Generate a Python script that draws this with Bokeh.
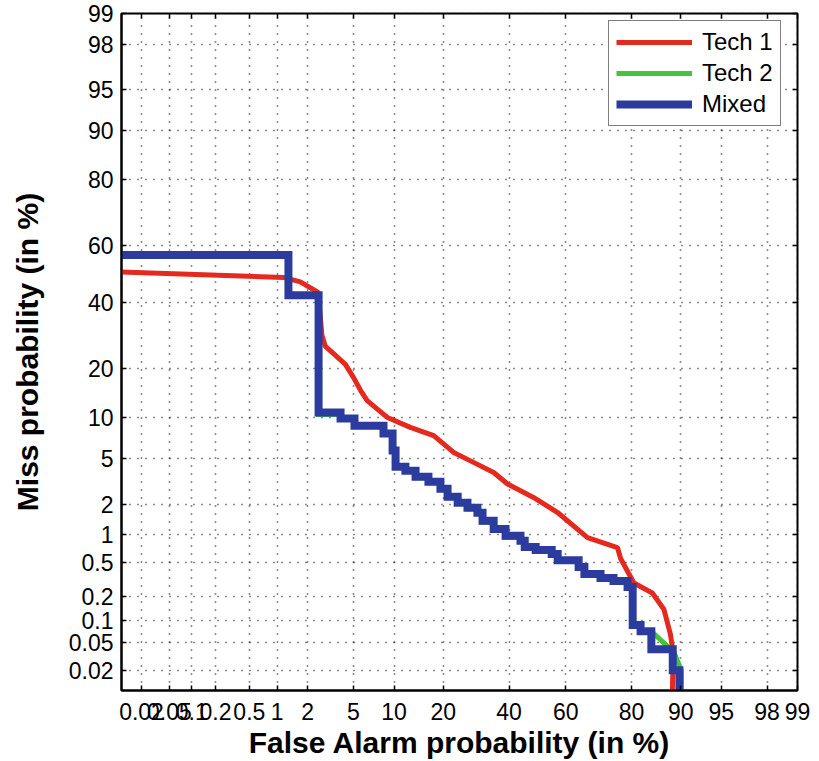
from statistics import NormalDist
from bokeh.plotting import figure
from bokeh.models import Range1d, FixedTicker, CustomJSTickFormatter, LinearAxis, Legend, LegendItem
from bokeh.embed import file_html
from bokeh.resources import INLINE

# ---- data (percent) ----
tick_pct = [0.02, 0.05, 0.1, 0.2, 0.5, 1, 2, 5, 10, 20, 40, 60, 80, 90, 95, 98, 99]
tick_labels = ["0.02", "0.05", "0.1", "0.2", "0.5", "1", "2", "5", "10", "20",
               "40", "60", "80", "90", "95", "98", "99"]
axis_min_pct = 0.01
axis_max_pct = 99

tech1_fa = [0.008, 1.16, 1.7, 2.5, 2.7, 2.9, 3.4, 4.3, 5.0, 5.7, 6.4, 7.7, 9.0, 12.8,
            17.7, 22.7, 28.4, 34.8, 39.5, 48.6, 57.2, 67.3, 76.3, 77.2, 80.6, 84.8,
            87.1, 88.3, 88.8, 88.6]
tech1_miss = [50.8, 48.8, 47.2, 43.5, 29.2, 25.9, 23.9, 21.0, 17.8, 14.9, 12.9, 11.3,
              10.0, 8.55, 7.45, 5.56, 4.63, 3.82, 3.04, 2.30, 1.66, 0.93, 0.73, 0.55,
              0.29, 0.22, 0.138, 0.0645, 0.0343, 0.008]

mixed_fa = [0.008, 1.30, 1.30, 2.52, 2.52, 3.92, 3.92, 5.10, 5.10, 8.44, 8.44, 9.77,
            9.77, 10.24, 10.24, 11.9, 11.9, 13.8, 13.8, 16.5, 16.5, 19.3, 19.3, 21.1,
            21.1, 23.8, 23.8, 26.6, 26.6, 29.6, 29.6, 31.2, 31.2, 34.8, 34.8, 38.8,
            38.8, 44.0, 44.0, 45.5, 45.5, 49.4, 49.4, 55.1, 55.1, 57.2, 57.2, 64.4,
            64.4, 66.3, 66.3, 71.4, 71.4, 75.2, 75.2, 79.0, 79.0, 80.3, 80.3, 82.2,
            82.2, 84.6, 84.6, 88.7, 88.7, 89.8, 89.8]
mixed_miss = [56.7, 56.7, 42.5, 42.5, 10.8, 10.8, 9.84, 9.84, 8.79, 8.79, 7.71, 7.71,
              5.74, 5.74, 4.26, 4.26, 3.95, 3.95, 3.51, 3.51, 3.18, 3.18, 2.76, 2.76,
              2.33, 2.33, 2.05, 2.05, 1.84, 1.84, 1.65, 1.65, 1.38, 1.38, 1.14, 1.14,
              0.97, 0.97, 0.86, 0.86, 0.74, 0.74, 0.687, 0.687, 0.62, 0.62, 0.53, 0.53,
              0.445, 0.445, 0.37, 0.37, 0.332, 0.332, 0.306, 0.306, 0.26, 0.26, 0.086,
              0.086, 0.0714, 0.0714, 0.0404, 0.0404, 0.0202, 0.0202, 0.008]

tech2_fa = [0.008, 1.30, 1.30, 2.52, 2.52, 3.92, 3.92, 5.10, 5.10, 8.44, 8.44, 9.77,
            9.77, 10.24, 10.24, 11.9, 11.9, 13.8, 13.8, 16.5, 16.5, 19.3, 19.3, 21.1,
            21.1, 23.8, 23.8, 26.6, 26.6, 29.6, 29.6, 31.0, 31.0, 34.8, 34.8, 38.6,
            38.6, 44.0, 44.0, 45.5, 45.5, 49.4, 49.4, 55.1, 55.1, 57.2, 57.2, 64.0,
            64.0, 66.3, 66.3, 71.0, 71.0, 75.2, 75.2, 78.8, 78.8, 80.1, 80.1, 82.2,
            82.2, 84.6, 88.3, 88.7, 90.1, 90.1]
tech2_miss = [56.7, 56.7, 42.5, 42.5, 10.5, 10.5, 9.7, 9.7, 8.7, 8.7, 7.6, 7.6,
              5.7, 5.7, 4.2, 4.2, 3.9, 3.9, 3.45, 3.45, 3.12, 3.12, 2.72, 2.72,
              2.3, 2.3, 2.02, 2.02, 1.80, 1.80, 1.62, 1.62, 1.33, 1.33, 1.11, 1.11,
              0.93, 0.93, 0.84, 0.84, 0.72, 0.72, 0.67, 0.67, 0.60, 0.60, 0.52, 0.52,
              0.43, 0.43, 0.36, 0.36, 0.32, 0.32, 0.30, 0.30, 0.25, 0.25, 0.084,
              0.084, 0.0714, 0.0714, 0.0404, 0.0404, 0.0202, 0.008]

series_names = ["Tech 1", "Tech 2", "Mixed"]
series_colors = ["#e4291f", "#45c43b", "#2b3c9e"]

_nd = NormalDist()


def probit(pct):
    return _nd.inv_cdf(pct / 100.0)


tick_pos = [probit(v) for v in tick_pct]

p = figure(width=812, height=761,
           x_range=Range1d(probit(axis_min_pct), probit(axis_max_pct) + 1e-9),
           y_range=Range1d(probit(axis_min_pct), probit(axis_max_pct) + 1e-9),
           output_backend="svg", toolbar_location=None,
           min_border_left=121, min_border_right=15, min_border_top=13, min_border_bottom=0)
p.background_fill_color = "white"
p.border_fill_color = "white"
p.outline_line_color = "black"
p.outline_line_width = 2

fmt = CustomJSTickFormatter(args=dict(tvals=tick_pos, tlabs=tick_labels), code="""
let best = 0;
for (let i = 0; i < tvals.length; i++) {
  if (Math.abs(tvals[i] - tick) < Math.abs(tvals[best] - tick)) { best = i; }
}
return tlabs[best];
""")
blank_fmt = CustomJSTickFormatter(code="return '';")

FONT = "Liberation Sans"
for ax, lab in ((p.xaxis[0], "False Alarm probability (in %)"),
                (p.yaxis[0], "Miss probability (in %)")):
    ax.ticker = FixedTicker(ticks=tick_pos)
    ax.formatter = fmt
    ax.axis_label = lab
    ax.axis_label_text_font = FONT
    ax.axis_label_text_font_style = "bold"
    ax.axis_label_text_font_size = "30px"
    ax.major_label_text_font = FONT
    ax.major_label_text_font_size = "23px"
    ax.major_label_text_color = "black"
    ax.axis_label_text_color = "black"
    ax.major_tick_in = 5
    ax.major_tick_out = 0
    ax.minor_tick_line_color = None
    ax.axis_line_color = "black"
    ax.axis_line_width = 2
    ax.major_tick_line_width = 1.5

p.xaxis[0].major_label_standoff = 12
p.xaxis[0].axis_label_standoff = 3
p.yaxis[0].major_label_standoff = 8
p.yaxis[0].axis_label_standoff = 22

for loc in ("above", "right"):
    ax = LinearAxis(ticker=FixedTicker(ticks=tick_pos), formatter=blank_fmt,
                    major_label_text_font_size="1px",
                    major_label_standoff=0, major_tick_in=5, major_tick_out=0,
                    minor_tick_line_color=None, axis_line_color=None,
                    major_tick_line_width=1.5)
    p.add_layout(ax, loc)

for g in (p.xgrid[0], p.ygrid[0]):
    g.ticker = FixedTicker(ticks=tick_pos)
    g.grid_line_color = "black"
    g.grid_line_dash = "1 7"
    g.grid_line_width = 1.6
    g.grid_line_alpha = 0.9

r1 = p.line([probit(v) for v in tech1_fa], [probit(v) for v in tech1_miss],
            line_color=series_colors[0], line_width=5)
r2 = p.line([probit(v) for v in tech2_fa], [probit(v) for v in tech2_miss],
            line_color=series_colors[1], line_width=5, line_join="miter")
r3 = p.line([probit(v) for v in mixed_fa], [probit(v) for v in mixed_miss],
            line_color=series_colors[2], line_width=8, line_join="miter")

legend = Legend(items=[LegendItem(label=series_names[0], renderers=[r1]),
                       LegendItem(label=series_names[1], renderers=[r2]),
                       LegendItem(label=series_names[2], renderers=[r3])],
                location=(487, 564))
legend.label_text_font = FONT
legend.label_text_font_size = "24px"
legend.label_text_color = "black"
legend.label_height = 24
legend.glyph_height = 24
legend.glyph_width = 76
legend.label_standoff = 10
legend.spacing = 3
legend.padding = 7
legend.margin = 0
legend.border_line_color = "black"
legend.border_line_width = 1.5
legend.background_fill_alpha = 1.0
p.add_layout(legend)

open("out.html", "w").write(file_html(p, INLINE))
